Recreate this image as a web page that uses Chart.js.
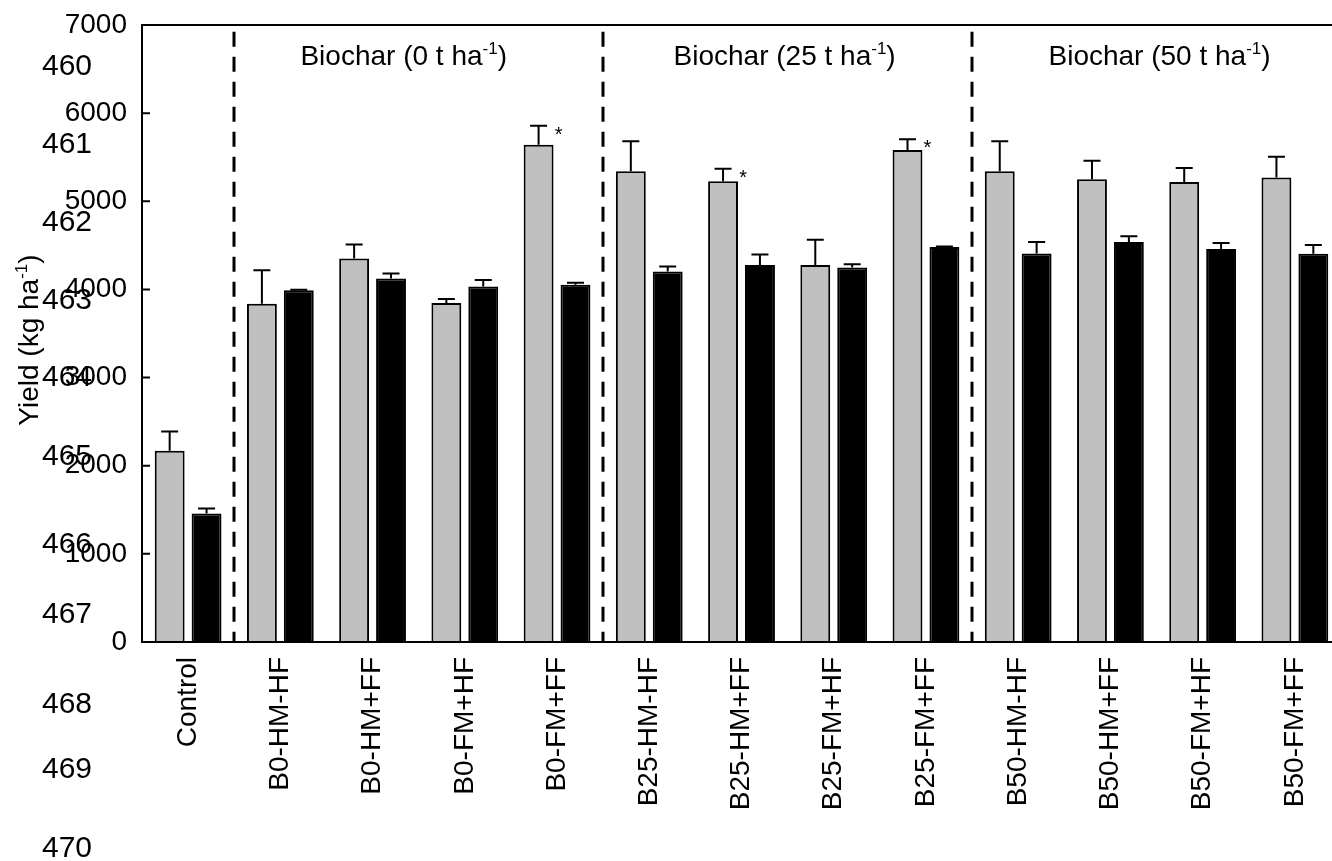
<!DOCTYPE html>
<html>
<head>
<meta charset="utf-8">
<script src="https://cdn.jsdelivr.net/npm/chart.js@4.4.1/dist/chart.umd.min.js"></script>
<style>
  html, body { margin: 0; padding: 0; background: #fff; overflow: hidden; }
  #wrap { width: 1350px; height: 861px; }
</style>
</head>
<body>
<div id="wrap"><canvas id="c" width="1350" height="861"></canvas></div>
<script>
// ---- data ----
const categories = ['Control', 'B0-HM-HF', 'B0-HM+FF', 'B0-FM+HF', 'B0-FM+FF',
  'B25-HM-HF', 'B25-HM+FF', 'B25-FM+HF', 'B25-FM+FF',
  'B50-HM-HF', 'B50-HM+FF', 'B50-FM+HF', 'B50-FM+FF'];
const greyMeans  = [2170, 3838, 4352, 3845, 5642, 5340, 5226, 4276, 5581, 5340, 5249, 5218, 5271];
const greyErr    = [218, 381, 159, 45, 216, 340, 144, 288, 122, 340, 212, 159, 235];
const blackMeans = [1458, 3992, 4125, 4034, 4053, 4204, 4276, 4250, 4480, 4409, 4537, 4458, 4405];
const blackErr   = [57, 5, 57, 72, 23, 57, 121, 37, 8, 128, 65, 68, 98];
const greyStar   = [false, false, false, false, true, false, true, false, true, false, false, false, false];
const yTickValues = [0, 1000, 2000, 3000, 4000, 5000, 6000, 7000];
const groupDividers = [0.5, 4.5, 8.5];           // between categories
const groupHeaders = ['Biochar (0 t ha', 'Biochar (25 t ha', 'Biochar (50 t ha'];
const groupHeaderCenters = [2.5, 6.5, 10.5];
const lineNumbers = ['460', '461', '462', '463', '464', '465', '466', '467', '468', '469', '470'];

// ---- style / layout ----
const FONT = "'Liberation Sans', Arial, sans-serif";
const lineNumberY = [67, 145, 223, 301, 378, 457, 545, 615, 705, 770, 849];
const headerOffsets = [-15, -3, 3];

function drawSupText(ctx, main, sup, tail, x, y, size, supSize, align) {
  ctx.font = size + 'px ' + FONT;
  const w1 = ctx.measureText(main).width;
  const w3 = ctx.measureText(tail).width;
  ctx.font = supSize + 'px ' + FONT;
  const w2 = ctx.measureText(sup).width;
  const total = w1 + w2 + w3;
  let sx = align === 'center' ? x - total / 2 : x;
  ctx.textAlign = 'left';
  ctx.textBaseline = 'alphabetic';
  ctx.font = size + 'px ' + FONT;
  ctx.fillText(main, sx, y);
  ctx.font = supSize + 'px ' + FONT;
  ctx.fillText(sup, sx + w1, y - size * 0.38);
  ctx.font = size + 'px ' + FONT;
  ctx.fillText(tail, sx + w1 + w2, y);
}

const decor = {
  id: 'decor',
  afterDatasetsDraw(chart) {
    const ctx = chart.ctx;
    const ys = chart.scales.y;
    const sets = [[greyMeans, greyErr], [blackMeans, blackErr]];
    ctx.save();
    ctx.strokeStyle = '#000';
    ctx.lineWidth = 2;
    sets.forEach((s, di) => {
      const meta = chart.getDatasetMeta(di);
      meta.data.forEach((bar, i) => {
        const y0 = ys.getPixelForValue(s[0][i]);
        const y1 = ys.getPixelForValue(s[0][i] + s[1][i]);
        ctx.beginPath();
        ctx.moveTo(bar.x, y0);
        ctx.lineTo(bar.x, y1);
        ctx.moveTo(bar.x - 8.5, y1);
        ctx.lineTo(bar.x + 8.5, y1);
        ctx.stroke();
        if (di === 0 && greyStar[i]) {
          ctx.fillStyle = '#000';
          ctx.font = '20px ' + FONT;
          ctx.textAlign = 'center';
          ctx.textBaseline = 'alphabetic';
          ctx.fillText('*', bar.x + 20, y1 + 15);
        }
      });
    });
    ctx.restore();
  },
  afterDraw(chart) {
    const ctx = chart.ctx;
    const a = chart.chartArea;
    const xs = chart.scales.x;
    const ys = chart.scales.y;
    ctx.save();
    ctx.strokeStyle = '#000';
    ctx.fillStyle = '#000';
    // frame
    ctx.lineWidth = 2;
    ctx.strokeRect(a.left, a.top, a.right - a.left, a.bottom - a.top);
    // inward ticks
    yTickValues.forEach(v => {
      const y = ys.getPixelForValue(v);
      ctx.beginPath();
      ctx.moveTo(a.left, y); ctx.lineTo(a.left + 8, y);
      ctx.moveTo(a.right, y); ctx.lineTo(a.right - 9, y);
      ctx.stroke();
    });
    // dashed group dividers
    ctx.lineWidth = 3;
    ctx.setLineDash([15, 10]);
    ctx.lineDashOffset = 18.3;
    groupDividers.forEach(v => {
      const x = Math.round(xs.getPixelForValue(v)) ;
      ctx.beginPath();
      ctx.moveTo(x, a.top);
      ctx.lineTo(x, a.bottom);
      ctx.stroke();
    });
    ctx.setLineDash([]);
    // group headers
    groupHeaders.forEach((t, i) => {
      const cx = xs.getPixelForValue(groupHeaderCenters[i]) + headerOffsets[i];
      drawSupText(ctx, t, '-1', ')', cx, 65, 28, 17, 'center');
    });
    // y-axis title
    ctx.save();
    ctx.translate(38, 340);
    ctx.rotate(-Math.PI / 2);
    drawSupText(ctx, 'Yield (kg ha', '-1', ')', 0, 0, 28, 17, 'center');
    ctx.restore();
    // stray manuscript line numbers
    ctx.font = '30px ' + FONT;
    ctx.textAlign = 'left';
    ctx.textBaseline = 'middle';
    lineNumbers.forEach((t, i) => ctx.fillText(t, 42, lineNumberY[i]));
    ctx.restore();
  }
};

new Chart(document.getElementById('c'), {
  type: 'bar',
  data: {
    labels: categories,
    datasets: [
      { data: greyMeans, backgroundColor: '#c0c0c0', borderColor: '#000', borderWidth: 2,
        barPercentage: 0.81, categoryPercentage: 0.8 },
      { data: blackMeans, backgroundColor: '#000', borderColor: '#000', borderWidth: 2,
        barPercentage: 0.81, categoryPercentage: 0.8 }
    ]
  },
  options: {
    responsive: false,
    animation: false,
    devicePixelRatio: 1,
    layout: { padding: { top: 25, right: 9, left: 0, bottom: 0 } },
    plugins: { legend: { display: false }, tooltip: { enabled: false } },
    scales: {
      x: {
        grid: { display: false, drawTicks: false },
        border: { display: false },
        ticks: { color: '#000', font: { family: FONT, size: 28 }, maxRotation: 90, minRotation: 90, padding: 15, autoSkip: false },
        afterFit(scale) { scale.height = 219; scale.paddingLeft = 0; scale.paddingRight = 0; }
      },
      y: {
        min: 0, max: 7000,
        afterBuildTicks(scale) { scale.ticks = yTickValues.map(v => ({ value: v })); },
        grid: { display: false, drawTicks: false },
        border: { display: false },
        ticks: { color: '#000', font: { family: FONT, size: 28 }, padding: 15, callback: v => String(v) },
        afterFit(scale) { scale.width = 142; scale.paddingTop = 0; scale.paddingBottom = 0; }
      }
    }
  },
  plugins: [decor]
});
</script>
</body>
</html>
